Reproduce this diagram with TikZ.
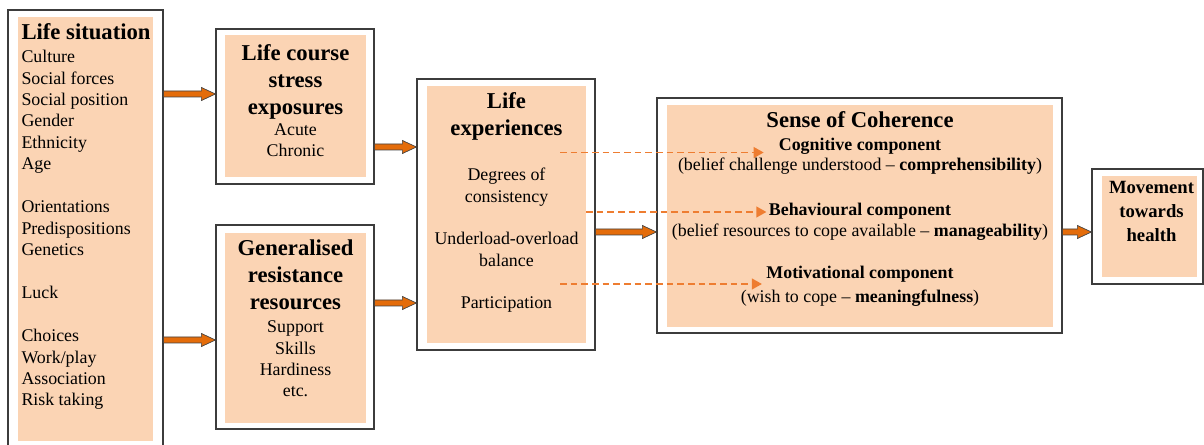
\documentclass[tikz,border=0pt]{standalone}
\usepackage{fontspec}
\setmainfont{Liberation Serif}
\usetikzlibrary{arrows.meta,fit,calc}

\definecolor{peach}{RGB}{251,212,180}
\definecolor{blockorange}{RGB}{228,108,10}
\definecolor{dashorange}{RGB}{238,125,49}
\definecolor{framegray}{RGB}{60,60,60}

\newcommand{\bodysize}{\fontsize{13.4}{16.1}\selectfont}
\newcommand{\headsize}{\fontsize{17}{20.6}\selectfont\bfseries}
\newcommand{\subheadsize}{\fontsize{13.4}{16.1}\selectfont\bfseries}

\tikzset{every picture/.style={line width=0.75pt}}
\tikzset{
  outerframe/.style={draw=framegray, line width=0.9pt, inner sep=0pt},
  peachbox/.style={fill=peach, inner sep=0pt},
  bodytext/.style={inner sep=0pt, font=\bodysize},
  headtext/.style={inner sep=0pt, font=\headsize},
  subhead/.style={inner sep=0pt, font=\subheadsize},
  blockarrow/.style={fill=blockorange, draw=black!75, line width=0.5pt,
    to path={let \p1=(\tikztostart), \p2=(\tikztotarget) in
      (\x1,\y1+2.25pt) -- (\x2-10.5pt,\y1+2.25pt) -- (\x2-10.5pt,\y1+4.9pt) -- (\x2,\y1)
      -- (\x2-10.5pt,\y1-4.9pt) -- (\x2-10.5pt,\y1-2.25pt) -- (\x1,\y1-2.25pt) -- cycle}},
  dasharrow/.style={draw=dashorange, line width=1.35pt, dash pattern=on 5pt off 3pt,
    -{Triangle[length=7.5pt,width=8pt]}},
}

\begin{document}
\begin{tikzpicture}[x=0.75pt,y=0.75pt,yscale=-1,xscale=1]
\useasboundingbox (0,0) rectangle (1204,445);

%Shapes: filled boxes
\node[peachbox, fit={(18,17) (153,441)}] (sitin) {};
\node[peachbox, fit={(225,35) (366,177)}] (stressin) {};
\node[peachbox, fit={(225,233) (366,423)}] (grrin) {};
\node[peachbox, fit={(427,86) (586,343)}] (expin) {};
\node[peachbox, fit={(667,105) (1053,327)}] (socin) {};
\node[peachbox, fit={(1102,176) (1197,277)}] (movein) {};

%Shapes: frames
\node[outerframe, fit={(8,10) (163,455)}] (sit) {};
\node[outerframe, fit={(216,29) (374,184)}] (stress) {};
\node[outerframe, fit={(216,225) (374,429)}] (grr) {};
\node[outerframe, fit={(417,79) (595,350)}] (exp) {};
\node[outerframe, fit={(657,98) (1062,333)}] (soc) {};
\node[outerframe, fit={(1092,169) (1203,284)}] (move) {};

% Text Node (multi-line nodes sit on their last baseline)
\node[headtext, anchor=base west] (sithead) at (21,40) {Life situation};
% Text Node
\node[bodytext, anchor=base west, align=left] (sitbody) at (21,406) {Culture\\Social forces\\Social position\\Gender\\Ethnicity\\Age\\[16.1pt]Orientations\\Predispositions\\Genetics\\[16.1pt]Luck\\[16.1pt]Choices\\Work/play\\Association\\Risk taking};
% Text Node
\node[headtext, anchor=base, align=center] (stresshead) at (295.5,115) {Life course\\stress\\exposures};
% Text Node
\node[bodytext, anchor=base, align=center] (stressbody) at (295.5,157) {Acute\\Chronic};
% Text Node
\node[headtext, anchor=base, align=center] (grrhead) at (295.5,310) {Generalised\\resistance\\resources};
% Text Node
\node[bodytext, anchor=base, align=center] (grrbody) at (295.5,397) {Support\\Skills\\Hardiness\\etc.};
% Text Node
\node[headtext, anchor=base, align=center] (exphead) at (506.5,135.5) {Life\\experiences};
% Text Node
\node[bodytext, anchor=base, align=center] (expbody) at (506.5,309) {Degrees of\\consistency\\[15.8pt]Underload-overload\\balance\\[15.8pt]Participation};
% Text Node
\node[headtext, anchor=base] (sochead) at (860,128) {Sense of Coherence};
% Text Node
\node[subhead, anchor=base] (cog) at (860,151) {Cognitive component};
\node[bodytext, anchor=base] (cogtxt) at (860,171) {(belief challenge understood – \textbf{comprehensibility})};
% Text Node
\node[subhead, anchor=base] (beh) at (860,216) {Behavioural component};
\node[bodytext, anchor=base] (behtxt) at (860,237) {(belief resources to cope available – \textbf{manageability})};
% Text Node
\node[subhead, anchor=base] (mot) at (860,279) {Motivational component};
\node[bodytext, anchor=base] (mottxt) at (860,303) {(wish to cope – \textbf{meaningfulness})};
% Text Node
\node[inner sep=0pt, anchor=base, align=center, font=\fontsize{14}{18}\selectfont\bfseries] (movetxt) at (1151.5,242) {Movement\\towards\\health};

%Block Arrows
\coordinate (r1) at (0,94);
\coordinate (r2) at (0,340);
\coordinate (r3) at (0,147);
\coordinate (r4) at (0,303);
\coordinate (r5) at (0,232);
\path[blockarrow] (sit.east |- r1) to (stress.west |- r1);
\path[blockarrow] (sit.east |- r2) to (grr.west |- r2);
\path[blockarrow] (stress.east |- r3) to (exp.west |- r3);
\path[blockarrow] (grr.east |- r4) to (exp.west |- r4);
\path[blockarrow] (exp.east |- r5) to (soc.west |- r5);
\path[blockarrow] (soc.east |- r5) to (move.west |- r5);

%Dashed Lines
\coordinate (d1) at (560,152.5);
\coordinate (d2) at (586,212);
\coordinate (d3) at (560,284);
\draw[dasharrow, shorten >=11pt] (d1) -- (d1 -| cog.west);
\draw[dasharrow, shorten >=1.5pt] (d2) -- (d2 -| beh.west);
\draw[dasharrow, shorten >=3pt] (d3) -- (d3 -| mot.west);

\end{tikzpicture}
\end{document}
